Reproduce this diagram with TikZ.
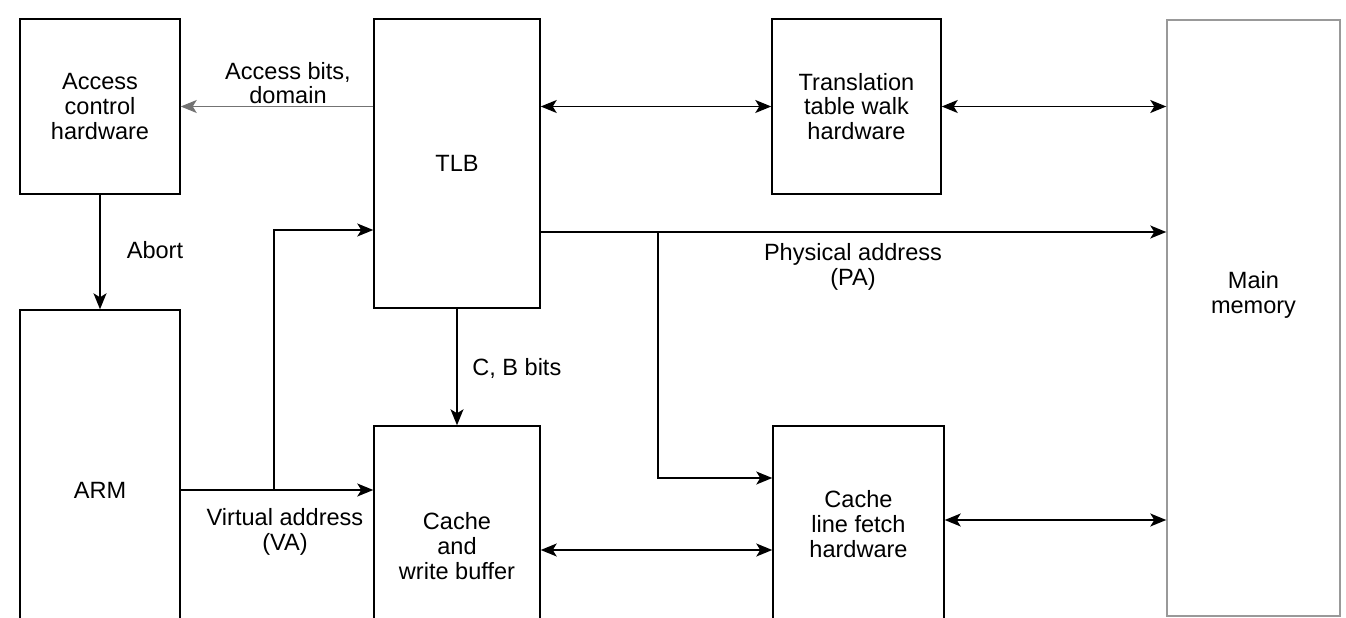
\documentclass[tikz,border=0pt]{standalone}
\usepackage{fontspec}
\setmainfont{Liberation Sans}
\usetikzlibrary{arrows.meta, positioning, calc}

\begin{document}
\begin{tikzpicture}[x=0.02cm, y=-0.02cm,
    box/.style={draw, line width=0.85pt, inner sep=0pt, align=center, font=\fontsize{13.4}{14}\selectfont},
    txt/.style={align=center, inner sep=0pt, font=\fontsize{13.4}{14}\selectfont},
    >={Stealth[length=0.32cm, width=0.26cm, inset=0.08cm]}]
    \useasboundingbox (0,0) rectangle (1346,618);
    \clip (0,0) rectangle (1346,618);
    \node[box, minimum width=3.2cm, minimum height=3.5cm] (acc) at (100,106.5) {Access\\control\\hardware};
    \node[box, minimum width=3.32cm, minimum height=5.78cm] (tlb) at (457,163.5) {TLB};
    \node[box, minimum width=3.38cm, minimum height=3.5cm] (ttw) at (856.5,106.5) {Translation\\table walk\\hardware};
    \node[box, draw=gray!80, minimum width=3.46cm, minimum height=11.92cm] (mem) at (1253.5,318) {};
    \node[txt] (memtxt) at (1253.5,295) {Main\\memory};
    \node[box, minimum width=3.2cm, minimum height=7.2cm] (arm) at (100,490) {ARM};
    \node[box, minimum width=3.32cm, minimum height=4.8cm] (cwb) at (457,546) {Cache\\and\\write buffer};
    \node[box, minimum width=3.42cm, minimum height=3.92cm] (lfh) at (858.5,524) {Cache\\line fetch\\hardware};
    \coordinate (vabr) at (274,490);
    \coordinate (pabr) at (658,232);
    \draw[->, line width=0.6pt, gray!90!black] (tlb.west |- acc.east) -- (acc.east);
    \node[txt] (accbits) at (288,83) {Access bits,\\domain};
    \draw[->, line width=0.85pt] (acc.south) -- (arm.north);
    \node[txt] (abort) at (155,250) {Abort};
    \draw[->, line width=0.85pt] (arm.east) -- (cwb.west |- arm.east);
    \draw[->, line width=0.85pt] (vabr) |- (tlb.west |- 0,230);
    \node[txt] (va) at (285,532) {Virtual address\\(VA)};
    \draw[->, line width=0.85pt] (tlb.south) -- (cwb.north);
    \node[txt, anchor=west] (cb) at (472,368) {C, B bits};
    \draw[<->, line width=0.85pt] (tlb.east |- ttw.west) -- (ttw.west);
    \draw[<->, line width=0.85pt] (ttw.east) -- (mem.west |- ttw.east);
    \draw[->, line width=0.85pt] (tlb.east |- pabr) -- (mem.west |- pabr);
    \draw[->, line width=0.85pt] (pabr) |- (lfh.west |- 0,478);
    \node[txt] (pa) at (853,267) {Physical address\\(PA)};
    \draw[<->, line width=0.85pt] (cwb.east |- 0,550) -- (lfh.west |- 0,550);
    \draw[<->, line width=0.85pt] (lfh.east |- 0,520) -- (mem.west |- 0,520);
\end{tikzpicture}
\end{document}
